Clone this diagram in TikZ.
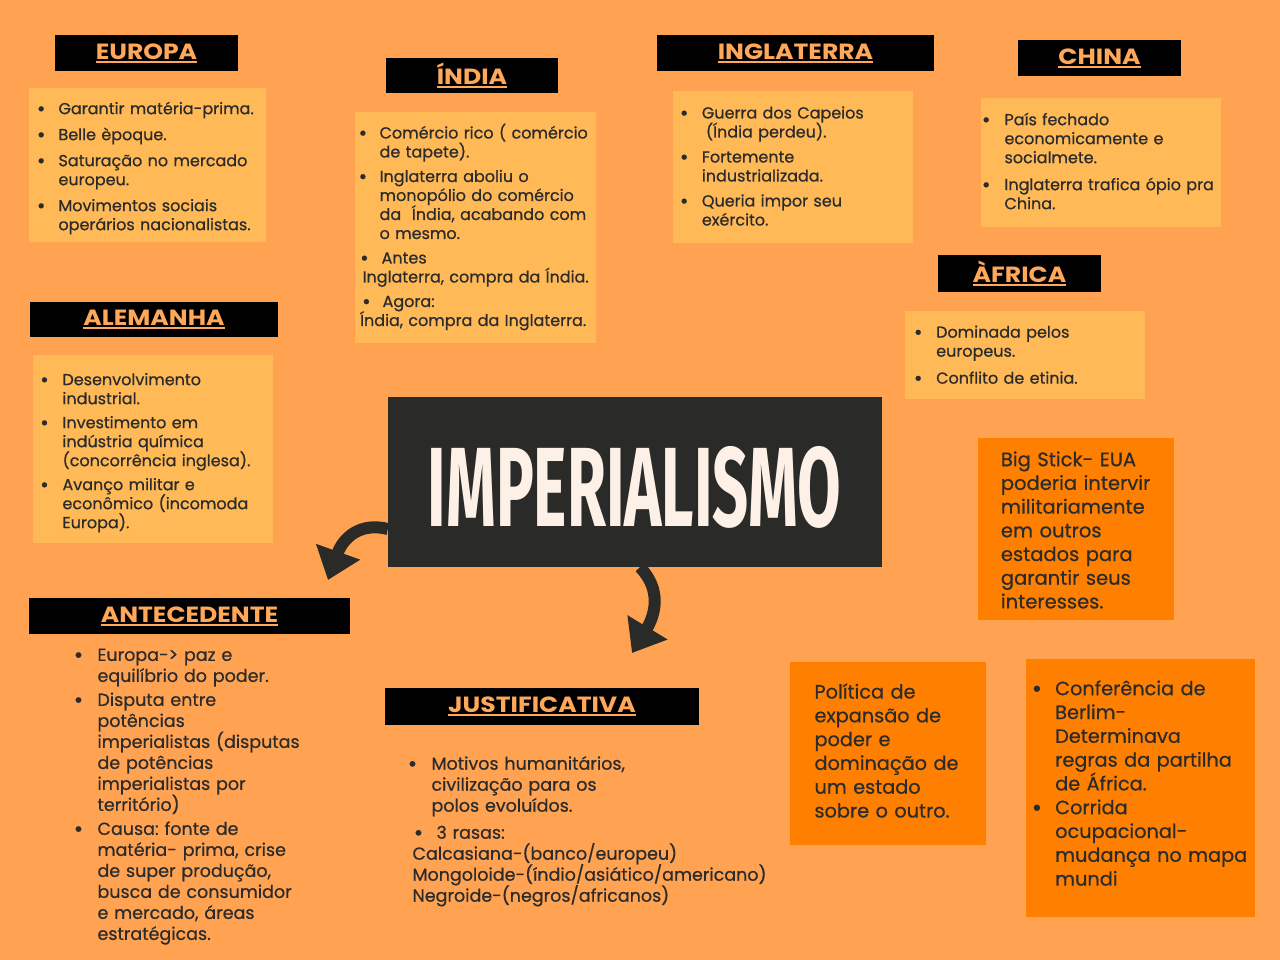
\documentclass[tikz,border=0pt]{standalone}
\usepackage{fontspec}
\usepackage{graphicx}
\setmainfont{Poppins}[UprightFeatures={FakeBold=0.6}]
\newfontfamily\titlefont{Fira Sans}
\usetikzlibrary{arrows.meta,positioning}

\definecolor{bgorange}{HTML}{FFA352}
\definecolor{panelfill}{HTML}{FFBA57}
\definecolor{hotfill}{HTML}{FF8000}
\definecolor{coredark}{HTML}{2A2A28}
\definecolor{hdrtext}{HTML}{FFA85A}
\definecolor{ink}{HTML}{2B2B2B}
\definecolor{titlewhite}{HTML}{FDF0E6}

\newcommand\boxfont{\fontsize{16}{19}\selectfont\lineskiplimit=-20pt\frenchspacing}
\newcommand\notefont{\fontsize{17.5}{21}\selectfont\lineskiplimit=-20pt\frenchspacing}
\newcommand\stickfont{\fontsize{19.5}{23.7}\selectfont\lineskiplimit=-20pt\frenchspacing}
\newcommand\bigfont{\fontsize{19.3}{23.8}\selectfont\lineskiplimit=-20pt\frenchspacing}
\newcommand\hdrline[1]{\setbox0\hbox{\scalebox{1.14}[1]{#1}}\rlap{\rule[-3.5pt]{\wd0}{1.6pt}}\box0}
\newcommand\listdot{\raisebox{-0.1em}{\scalebox{1.3}{\textbullet}}}

% bullet list: [indent]{item gap}
\newenvironment{pts}[2][17pt]{%
  \begin{list}{\listdot}{\setlength\leftmargin{#1}\setlength\labelsep{#1}%
    \setlength\labelwidth{0pt}\setlength\itemindent{0pt}\setlength\itemsep{#2}%
    \setlength\topsep{0pt}\setlength\partopsep{0pt}\setlength\parsep{0pt}%
    \def\makelabel##1{\strut\makebox[0pt]{##1}}}}%
  {\end{list}}

\begin{document}
\begin{tikzpicture}[x=1pt,y=-1pt,
  hdr/.style={fill=black,text=hdrtext,font=\fontsize{22}{24}\selectfont\bfseries,inner sep=0pt},
  panel/.style={fill=panelfill,inner sep=0pt,anchor=north west},
  hotpanel/.style={fill=hotfill,inner sep=0pt,anchor=north west},
  txt/.style={anchor=north west,inner sep=0pt,text width=#1,align=left,text=ink},
  txt/.default=280pt,
  pointer/.style={draw=coredark,line width=12pt,-{Triangle[length=30pt,width=45pt]}}]
\useasboundingbox (0,0) rectangle (1280,960);
\fill[bgorange] (0,0) rectangle (1280,960);

% headings
\node[hdr,minimum width=183pt,minimum height=36pt] (europa) at (146.5,53) {\hdrline{EUROPA}};
\node[hdr,minimum width=172pt,minimum height=35pt] (india) at (472,75.5) {\hdrline{ÍNDIA}};
\node[hdr,minimum width=277pt,minimum height=36pt] (inglaterra) at (795.5,53) {\hdrline{INGLATERRA}};
\node[hdr,minimum width=163pt,minimum height=36pt] (china) at (1099.5,58) {\hdrline{CHINA}};
\node[hdr,minimum width=163pt,minimum height=37pt] (africa) at (1019.5,273.5) {\hdrline{ÀFRICA}};
\node[hdr,minimum width=248pt,minimum height=35pt] (alemanha) at (154,319.5) {\hdrline{ALEMANHA}};
\node[hdr,minimum width=321pt,minimum height=36pt] (antecedente) at (189.5,616) {\hdrline{ANTECEDENTE}};
\node[hdr,minimum width=314pt,minimum height=37pt] (justificativa) at (542,706.5) {\hdrline{JUSTIFICATIVA}};

% panels
\node[panel,minimum width=237pt,minimum height=154pt] (europabox) at (29,88) {};
\node[panel,minimum width=241pt,minimum height=231pt] (indiabox) at (355,112) {};
\node[panel,minimum width=240pt,minimum height=152pt] (inglaterrabox) at (673,91) {};
\node[panel,minimum width=240pt,minimum height=129pt] (chinabox) at (981,98) {};
\node[panel,minimum width=240pt,minimum height=88pt] (africabox) at (905,311) {};
\node[panel,minimum width=240pt,minimum height=188pt] (alemanhabox) at (33,355) {};
\node[hotpanel,minimum width=196pt,minimum height=182pt] (stickbox) at (978,438) {};
\node[hotpanel,minimum width=196pt,minimum height=183pt] (politicabox) at (790,662) {};
\node[hotpanel,minimum width=229pt,minimum height=258pt] (berlimbox) at (1026,659) {};

% centre
\node[fill=coredark,inner sep=0pt,minimum width=494pt,minimum height=170pt] (core) at (635,482) {};
\node[text=titlewhite,inner sep=0pt] (coretitle) at (634.5,487)
  {\resizebox{413pt}{80pt}{\titlefont\bfseries IMPERIALISMO}};

\coordinate (antetip) at (328,580);
\coordinate (justtip) at (632,653);
\draw[pointer] ([yshift=-47pt]core.west) .. controls (360,522) and (343,538) .. (antetip);
\draw[pointer] ([xshift=5pt]core.south) .. controls (662,590) and (655,615) .. (justtip);

% texts
\node[txt,font=\boxfont] (europatxt) at (41,95) {%
  \begin{pts}[17.3pt]{7pt}
  \item Garantir matéria-prima.
  \item Belle èpoque.
  \item Saturação no mercado\\europeu.
  \item Movimentos sociais\\operários nacionalistas.
  \end{pts}};
\node[txt,font=\boxfont] (indiatxt) at (362.7,119.3) {%
  \begin{pts}[16.7pt]{5.5pt}
  \item Comércio rico ( comércio\\de tapete).
  \item Inglaterra aboliu o\\monopólio do comércio\\da~ Índia, acabando com\\o mesmo.
  \item[\hskip3pt\listdot]\hspace*{2pt}Antes\\\hspace*{-17pt}Inglaterra, compra da Índia.
  \item[\hskip7pt\listdot]\hspace*{3pt}Agora:\\\hspace*{-19.5pt}Índia, compra da Inglaterra.
  \end{pts}};
\node[txt,font=\boxfont] (inglaterratxt) at (684,99.3) {%
  \begin{pts}[17.7pt]{6pt}
  \item Guerra dos Capeios\\\hspace*{4pt}(Índia perdeu).
  \item Fortemente\\industrializada.
  \item Queria impor seu\\exército.
  \end{pts}};
\node[txt,font=\boxfont] (chinatxt) at (986,106) {%
  \begin{pts}[18.3pt]{8pt}
  \item País fechado\\economicamente e\\socialmete.
  \item Inglaterra trafica ópio pra\\China.
  \end{pts}};
\node[txt,font=\boxfont] (africatxt) at (918,318.5) {%
  \begin{pts}[18pt]{8pt}
  \item Dominada pelos\\europeus.
  \item Conflito de etinia.
  \end{pts}};
\node[txt,font=\boxfont] (alemanhatxt) at (44.3,366) {%
  \begin{pts}[18pt]{5pt}
  \item Desenvolvimento\\industrial.
  \item Investimento em\\indústria química\\(concorrência inglesa).
  \item Avanço militar e\\econômico (incomoda\\Europa).
  \end{pts}};
\node[txt,font=\notefont] (antecedentetxt) at (78.3,639.7) {%
  \begin{pts}[19pt]{3pt}
  \item Europa-> paz e\\equilíbrio do poder.
  \item Disputa entre\\potências\\imperialistas (disputas\\de potências\\imperialistas por\\território)
  \item Causa: fonte de\\matéria- prima, crise\\de super produção,\\busca de consumidor\\e mercado, áreas\\estratégicas.
  \end{pts}};
\node[txt=400pt,font=\notefont] (justificativatxt) at (412.3,748.5) {%
  \begin{pts}[19pt]{6pt}
  \item Motivos humanitários,\\civilização para os\\polos evoluídos.
  \item[\hskip12pt\listdot]\hspace*{5pt}3 rasas:\\\hspace*{-19pt}Calcasiana-(banco/europeu)\\\hspace*{-19pt}Mongoloide-(índio/asiático/americano)\\\hspace*{-19pt}Negroide-(negros/africanos)
  \end{pts}};
\node[txt=220pt,font=\stickfont] (sticktxt) at (1000.7,442.3) {\par
  Big Stick- EUA\\poderia intervir\\militariamente\\em outros\\estados para\\garantir seus\\interesses.};
\node[txt=220pt,font=\bigfont] (politicatxt) at (814.3,674.5) {\par
  Política de\\expansão de\\poder e\\dominação de\\um estado\\sobre o outro.};
\node[txt=260pt,font=\bigfont] (berlimtxt) at (1036.7,671.2) {%
  \begin{pts}[18.3pt]{0pt}
  \item Conferência de\\Berlim-\\Determinava\\regras da partilha\\de África.
  \item Corrida\\ocupacional-\\mudança no mapa\\mundi
  \end{pts}};
\end{tikzpicture}
\end{document}
